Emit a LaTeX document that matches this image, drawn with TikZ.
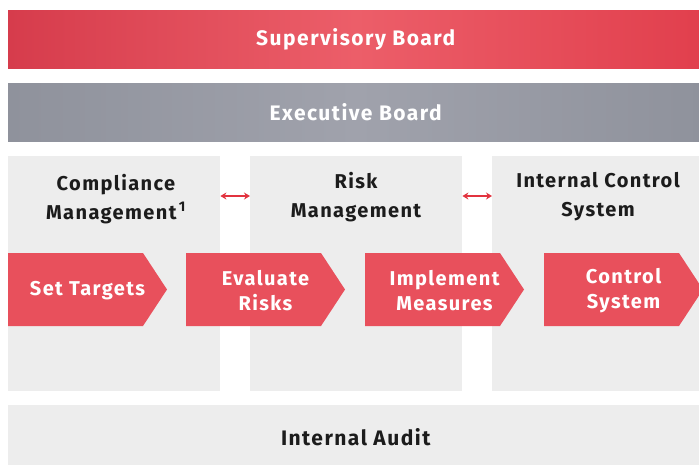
\documentclass[tikz,border=0pt]{standalone}
\usepackage{fontspec}
\setmainfont{Fira Sans}[LetterSpace=7]
\usetikzlibrary{arrows.meta}
\definecolor{redL}{HTML}{D63C4C}
\definecolor{redM}{HTML}{EC5E69}
\definecolor{redR}{HTML}{E13F4D}
\definecolor{greyL}{HTML}{8F929C}
\definecolor{greyM}{HTML}{A0A2AC}
\definecolor{paleback}{HTML}{EDEDED}
\definecolor{chevred}{HTML}{E8505C}
\definecolor{linkred}{HTML}{E2333F}
\definecolor{ink}{HTML}{1C1C1C}
\begin{document}
\begin{tikzpicture}[
    x=1pt, y=-1pt,
    every node/.style={inner sep=0pt, align=center, font=\bfseries\fontsize{20}{29}\selectfont},
    board/.style={anchor=north west, minimum width=695pt, minimum height=58pt, text=white, font=\bfseries\fontsize{21}{29}\selectfont},
    column/.style={anchor=north west, fill=paleback, minimum width=212pt, minimum height=235pt},
    title/.style={text=ink},
    steptext/.style={text=white, font=\bfseries\fontsize{20}{25}\selectfont},
    link/.style={<->, linkred, line width=1.6pt},
    >={Stealth[length=6pt,width=7pt]}
  ]
  \useasboundingbox[fill=white] (0,0) rectangle (699,464);
  % boards
  \node (sb) [board, left color=redL, right color=redR, middle color=redM] at (8,10) {Supervisory Board};
  \node (eb) [board, left color=greyL, right color=greyL, middle color=greyM] at (8,83) {Executive Board};
  \node (ia) [board, fill=paleback, text=ink, minimum height=64pt] at (8,405) {Internal Audit};
  % columns
  \node (c1) [column] at (8,156) {};
  \node (c2) [column] at (250,156) {};
  \node (c3) [column] at (492,156) {};
  \node (t1) [title] at (116,199) {Compliance\\Management\textsuperscript{\,1}};
  \node (t2) [title] at (356,197) {Risk\\Management};
  \node (t3) [title] at (598,197) {Internal Control\\System};
  \coordinate (lk) at (0,196);
  \draw[link] (c1.east |- lk) -- (c2.west |- lk);
  \draw[link] (c2.east |- lk) -- (c3.west |- lk);
  % process steps
  \foreach \x/\n/\t in {8/s1/{Set Targets}, 186/s2/{Evaluate\\Risks}, 365/s3/{Implement\\Measures}, 544/s4/{Control\\System}} {
    \fill[chevred] (\x,253) -- ++(135,0) -- ++(24,36.5) -- ++(-24,36.5) -- ++(-135,0) -- cycle;
    \node (\n) [steptext] at (\x+79.5,291) {\t};
  }
\end{tikzpicture}
\end{document}
